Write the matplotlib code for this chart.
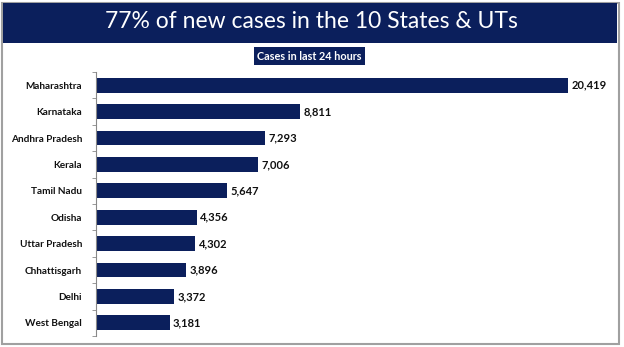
import matplotlib.pyplot as plt
from matplotlib.patches import Rectangle

states = ["Maharashtra", "Karnataka", "Andhra Pradesh", "Kerala", "Tamil Nadu",
          "Odisha", "Uttar Pradesh", "Chhattisgarh", "Delhi", "West Bengal"]
cases = [20419, 8811, 7293, 7006, 5647, 4356, 4302, 3896, 3372, 3181]

navy = "#0b1f5c"
W, H = 624, 347

fig = plt.figure(figsize=(W / 100, H / 100), dpi=100)
fig.patch.set_facecolor("white")

# outer grey frame
fig.patches.append(Rectangle((2 / W, 3 / H), 617 / W, 341 / H, transform=fig.transFigure,
                             fill=False, edgecolor="#a0a0a0", linewidth=1.5))
# title band
fig.patches.append(Rectangle((3 / W, 1 - 43 / H), 614 / W, 40 / H, transform=fig.transFigure,
                             facecolor=navy, edgecolor="none"))
fig.text(311 / W, 1 - 22 / H, "77% of new cases in the 10 States & UTs", color="white",
         fontsize=16.5, family="Lato", ha="center", va="center")
fig.text(309 / W, 1 - 56 / H, "Cases in last 24 hours", color="white", fontsize=7.8,
         fontweight="bold", family="Lato", ha="center", va="center",
         bbox=dict(boxstyle="square,pad=0.3", facecolor=navy, edgecolor="none"))

ax = fig.add_axes([96 / W, 1 - 336 / H, 504 / W, 264 / H])
y = list(range(len(states)))
ax.barh(y, cases, height=0.56, color=navy)
ax.set_ylim(len(states) - 0.5, -0.5)
ax.set_xlim(0, 20419 * 504 / 472)

for yi, v in zip(y, cases):
    ax.text(v + 150, yi, f"{v:,}", va="center", ha="left", fontsize=8,
            fontweight="bold", family="Lato", color="#111111")

ax.set_yticks(y)
ax.set_yticklabels(states, fontsize=7.2, fontweight="bold", family="Lato", color="#111111")
ax.set_yticks([i - 0.5 for i in range(len(states) + 1)], minor=True)
ax.tick_params(axis="y", which="major", length=0, pad=10)
ax.tick_params(axis="y", which="minor", length=3, color="#888888", direction="out")
ax.set_xticks([])
for s in ["top", "right", "bottom"]:
    ax.spines[s].set_visible(False)
ax.spines["left"].set_color("#888888")
ax.spines["left"].set_linewidth(0.8)

fig.savefig("out.png", dpi=100)
